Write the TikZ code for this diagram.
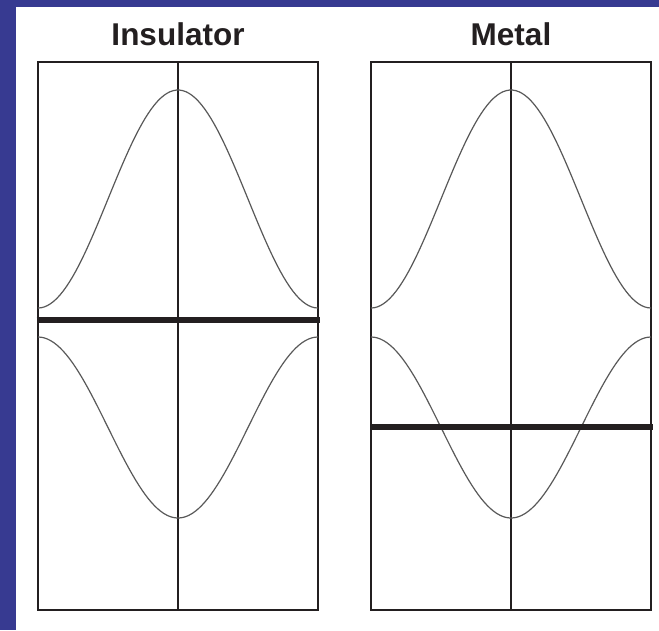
\documentclass[tikz,border=0pt]{standalone}
\usepackage{fontspec}
\setmainfont{Liberation Sans}
\usetikzlibrary{positioning}

\definecolor{slideblue}{RGB}{55,58,145}
\definecolor{inkdark}{RGB}{35,31,32}

\begin{document}
\begin{tikzpicture}[x=1pt, y=-1pt,
    bandbox/.style={draw=inkdark, line width=1.4pt, minimum width=280pt, minimum height=548pt, inner sep=0pt, outer sep=0pt},
    bandtitle/.style={font=\bfseries\fontsize{31.5}{33}\selectfont, text=inkdark, anchor=base},
    band/.style={draw=black!65, line width=1.2pt},
    fermi/.style={draw=inkdark, line width=5.2pt}]
    % slide background
    \fill[slideblue] (0,0) rectangle (659,630);
    \fill[white] (16,7) rectangle (659,630);

    \node [bandbox] (insbox) at (178,336) {};
    \node [bandbox] (metbox) at (511,336) {};

    \node [bandtitle, above=12.7pt of insbox] (institle) {Insulator};
    \node [bandtitle, above=12.7pt of metbox] (mettitle) {Metal};

    \draw[inkdark, line width=1.1pt] (insbox.north) -- (insbox.south);
    \draw[inkdark, line width=1.1pt] (metbox.north) -- (metbox.south);

    % energy bands
    \foreach \cx in {178, 511} {
      \draw[band] plot[domain=-140:140, samples=90] ({\cx+\x}, {199-109*cos(\x/140*180)});
      \draw[band] plot[domain=-140:140, samples=90] ({\cx+\x}, {427.5+90.5*cos(\x/140*180)});
    }

    % Fermi levels
    \coordinate (insL) at (36.5,320);
    \coordinate (insR) at (319.5,320);
    \coordinate (metL) at (370,427);
    \coordinate (metR) at (653,427);
    \draw[fermi] (insL) -- (insR);
    \draw[fermi] (metL) -- (metR);
\end{tikzpicture}
\end{document}
